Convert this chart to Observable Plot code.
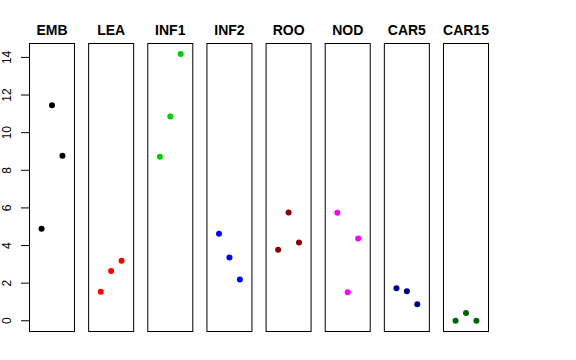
<!DOCTYPE html>
<html>
<head>
<meta charset="utf-8">
<script src="https://cdn.jsdelivr.net/npm/d3@7"></script>
<script src="https://cdn.jsdelivr.net/npm/@observablehq/plot@0.6"></script>
<style>
  html, body { margin: 0; padding: 0; background: white; }
</style>
</head>
<body>
<div id="chart"></div>
<script>
const panels = ["EMB", "LEA", "INF1", "INF2", "ROO", "NOD", "CAR5", "CAR15"];
const colors = ["#000000", "#FF0000", "#00CD00", "#0000FF", "#8B0000", "#FF00FF", "#00008B", "#006400"];
const positions = [1, 2, 3];
const EMB = [4.89, 11.46, 8.77];
const LEA = [1.54, 2.64, 3.19];
const INF1 = [8.72, 10.86, 14.18];
const INF2 = [4.62, 3.37, 2.20];
const ROO = [3.77, 5.76, 4.16];
const NOD = [5.74, 1.52, 4.37];
const CAR5 = [1.73, 1.57, 0.88];
const CAR15 = [0.0, 0.42, 0.0];
const yTicks = [0, 2, 4, 6, 8, 10, 12, 14];

const series = [EMB, LEA, INF1, INF2, ROO, NOD, CAR5, CAR15];
const data = [];
panels.forEach((p, i) => {
  series[i].forEach((v, j) => data.push({panel: p, pos: positions[j], value: v}));
});

const chart = Plot.plot({
  width: 576,
  height: 360,
  marginLeft: 29,
  marginRight: 88,
  marginTop: 43,
  marginBottom: 29,
  style: {fontFamily: "Liberation Sans, Arial, Helvetica, sans-serif", fontSize: "12px", color: "black", background: "white"},
  fx: {domain: panels, paddingInner: 0.239, paddingOuter: 0, round: false},
  x: {domain: [-0.16, 4.16], axis: null},
  y: {domain: [-0.57, 14.74]},
  color: {domain: panels, range: colors},
  marks: [
    Plot.frame({stroke: "black", strokeWidth: 1}),
    Plot.dot(data, {fx: "panel", x: "pos", y: "value", fill: "panel", r: 3, stroke: null}),
    Plot.axisY({ticks: yTicks, tickSize: 8, text: null, label: null}),
    Plot.axisY({ticks: yTicks, tickSize: 0, tickPadding: 22, rotate: -90, textAnchor: "middle", label: null, fontSize: 12}),
    Plot.axisFx({anchor: "top", label: null, tickSize: 0, tickPadding: 9, fontWeight: "bold", fontSize: 14})
  ]
});
document.getElementById("chart").appendChild(chart);
</script>
</body>
</html>
